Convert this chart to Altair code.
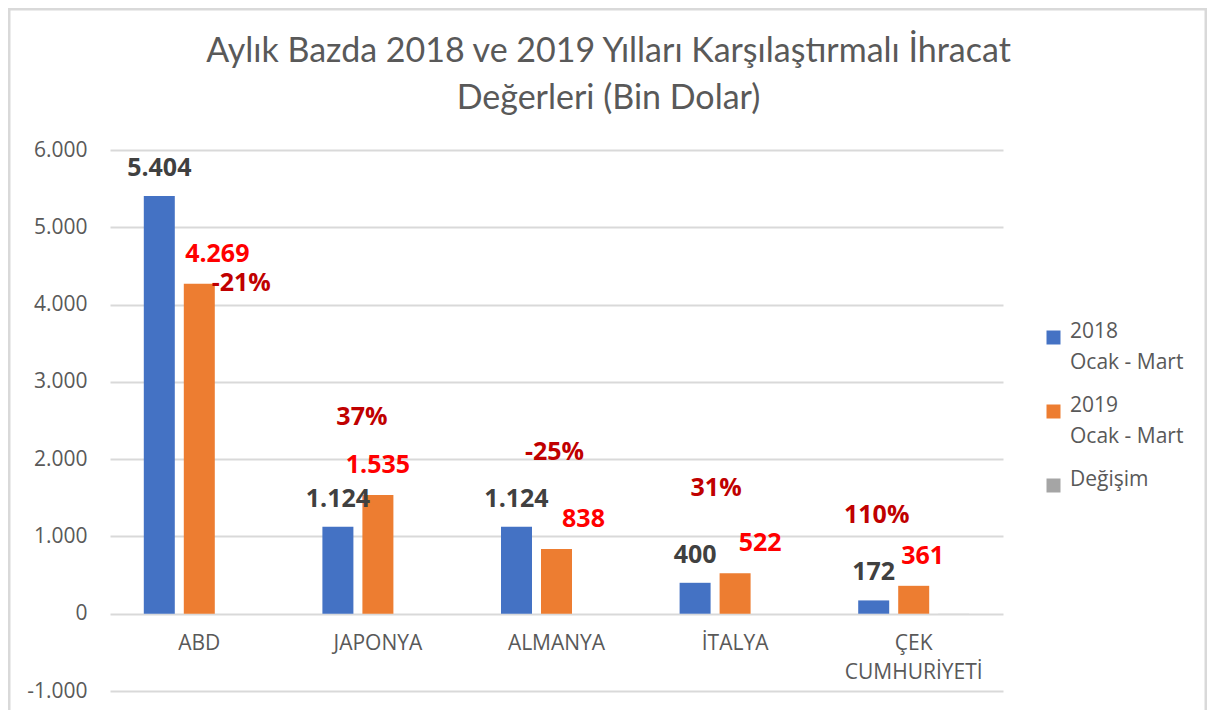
import altair as alt
import pandas as pd

# ---- data ----
countries = ["ABD", "JAPONYA", "ALMANYA", "İTALYA", "ÇEK CUMHURİYETİ"]
series_names = ["2018|Ocak - Mart", "2019|Ocak - Mart", "Değişim"]
values_2018 = [5404, 1124, 1124, 400, 172]
values_2019 = [4269, 1535, 838, 522, 361]
change = [-0.21, 0.37, -0.25, 0.31, 1.10]
# manually placed change labels (value-axis units)
change_label_at = [4279, 2545, 2092, 1626, 1277]

y_ticks = [-1000, 0, 1000, 2000, 3000, 4000, 5000, 6000]
colors = ["#4472C4", "#ED7D31", "#A5A5A5"]

# ---- styles (pixel offsets of labels) ----
lbl2018_dx = [0, 0, 0, 0, 0]
lbl2019_dx = [18, 0, 27, 25, 9]
change_dx = [42, -16, -2, -19, -37]

FONT = "Open Sans"
TITLE_FONT = "Lato"


def fmt(v):
    return f"{v:,}".replace(",", ".")


rows = []
for i, c in enumerate(countries):
    rows.append({"country": c, "series": series_names[0], "value": values_2018[i]})
    rows.append({"country": c, "series": series_names[1], "value": values_2019[i]})
    rows.append({"country": c, "series": series_names[2], "value": change[i]})
df = pd.DataFrame(rows)

x_enc = alt.X(
    "country:N",
    sort=countries,
    scale=alt.Scale(paddingInner=0, paddingOuter=0),
    axis=alt.Axis(
        title=None,
        domain=False,
        ticks=False,
        labelAngle=0,
        labelFont=FONT,
        labelFontSize=21,
        labelColor="#595959",
        labelPadding=18,
        labelLineHeight=29,
        offset=-77,
        labelExpr="indexof(datum.label, ' ') > 0 ? split(datum.label, ' ') : datum.label",
    ),
)
y_scale = alt.Scale(domain=[-1000, 6000], nice=False)
y_enc = alt.Y(
    "value:Q",
    scale=y_scale,
    axis=alt.Axis(
        title=None,
        values=y_ticks,
        domain=False,
        ticks=False,
        grid=True,
        gridColor="#D9D9D9",
        gridWidth=2,
        labelFont=FONT,
        labelFontSize=21,
        labelColor="#595959",
        labelPadding=23,
        labelExpr="datum.value < 0 ? '-' + replace(format(-datum.value, ','), ',', '.') : replace(format(datum.value, ','), ',', '.')",
    ),
)

bars = alt.Chart(df).mark_bar().encode(
    x=x_enc,
    xOffset=alt.XOffset(
        "series:N",
        sort=series_names,
        scale=alt.Scale(paddingInner=0.225, paddingOuter=0.845),
    ),
    y=y_enc,
    color=alt.Color(
        "series:N",
        sort=series_names,
        scale=alt.Scale(domain=series_names, range=colors),
        legend=alt.Legend(
            title=None,
            orient="none",
            legendX=933,
            legendY=177,
            symbolType="square",
            symbolSize=196,
            symbolStrokeWidth=0,
            labelFont=FONT,
            labelFontSize=21,
            labelColor="#595959",
            labelBaseline="alphabetic",
            labelExpr="split(datum.label, '|')",
            labelOffset=6,
            rowPadding=21,
        ),
    ),
)

layers = [bars]

# frame around the chart area
frame = alt.Chart(pd.DataFrame({"k": [0]})).mark_rect(
    fillOpacity=0, stroke="#D9D9D9", strokeWidth=3
).encode(
    x=alt.value(-101), x2=alt.value(1096), y=alt.value(-141), y2=alt.value(620)
)
layers.insert(0, frame)

for i, c in enumerate(countries):
    d18 = pd.DataFrame({"country": [c], "series": [series_names[0]], "value": [values_2018[i]], "t": [fmt(values_2018[i])]})
    d19 = pd.DataFrame({"country": [c], "series": [series_names[1]], "value": [values_2019[i]], "t": [fmt(values_2019[i])]})
    dch = pd.DataFrame({"country": [c], "value": [change_label_at[i]], "t": [f"{round(change[i]*100)}%"]})
    layers.append(
        alt.Chart(d18).mark_text(
            font=FONT, fontSize=25, fontWeight="bold", color="#404040",
            baseline="middle", dy=-28, dx=lbl2018_dx[i]
        ).encode(
            x=alt.X("country:N", sort=countries),
            xOffset=alt.XOffset("series:N", sort=series_names),
            y=alt.Y("value:Q"),
            text="t:N",
        )
    )
    layers.append(
        alt.Chart(d19).mark_text(
            font=FONT, fontSize=25, fontWeight="bold", color="#FF0000",
            baseline="middle", dy=-30, dx=lbl2019_dx[i]
        ).encode(
            x=alt.X("country:N", sort=countries),
            xOffset=alt.XOffset("series:N", sort=series_names),
            y=alt.Y("value:Q"),
            text="t:N",
        )
    )
    layers.append(
        alt.Chart(dch).mark_text(
            font=FONT, fontSize=25, fontWeight="bold", color="#C00000",
            baseline="middle", dx=change_dx[i]
        ).encode(
            x=alt.X("country:N", sort=countries),
            y=alt.Y("value:Q"),
            text="t:N",
        )
    )

chart = alt.layer(*layers).properties(
    width=893,
    height=541,
    title=alt.TitleParams(
        text=["Aylık Bazda 2018 ve 2019 Yılları Karşılaştırmalı İhracat", "Değerleri (Bin Dolar)"],
        font=TITLE_FONT,
        fontSize=34,
        fontWeight="normal",
        color="#595959",
        anchor="middle",
        frame="group",
        dx=52,
        offset=-108,
        lineHeight=47,
    ),
    autosize=alt.AutoSizeParams(type="none"),
    padding={"left": 102, "top": 142, "right": 204, "bottom": 19},
).configure(
    style={"guide-label": {"lineHeight": 31}}
).configure_view(stroke=None)

chart.save("out.html", embed_options={"renderer": "svg", "actions": False})
